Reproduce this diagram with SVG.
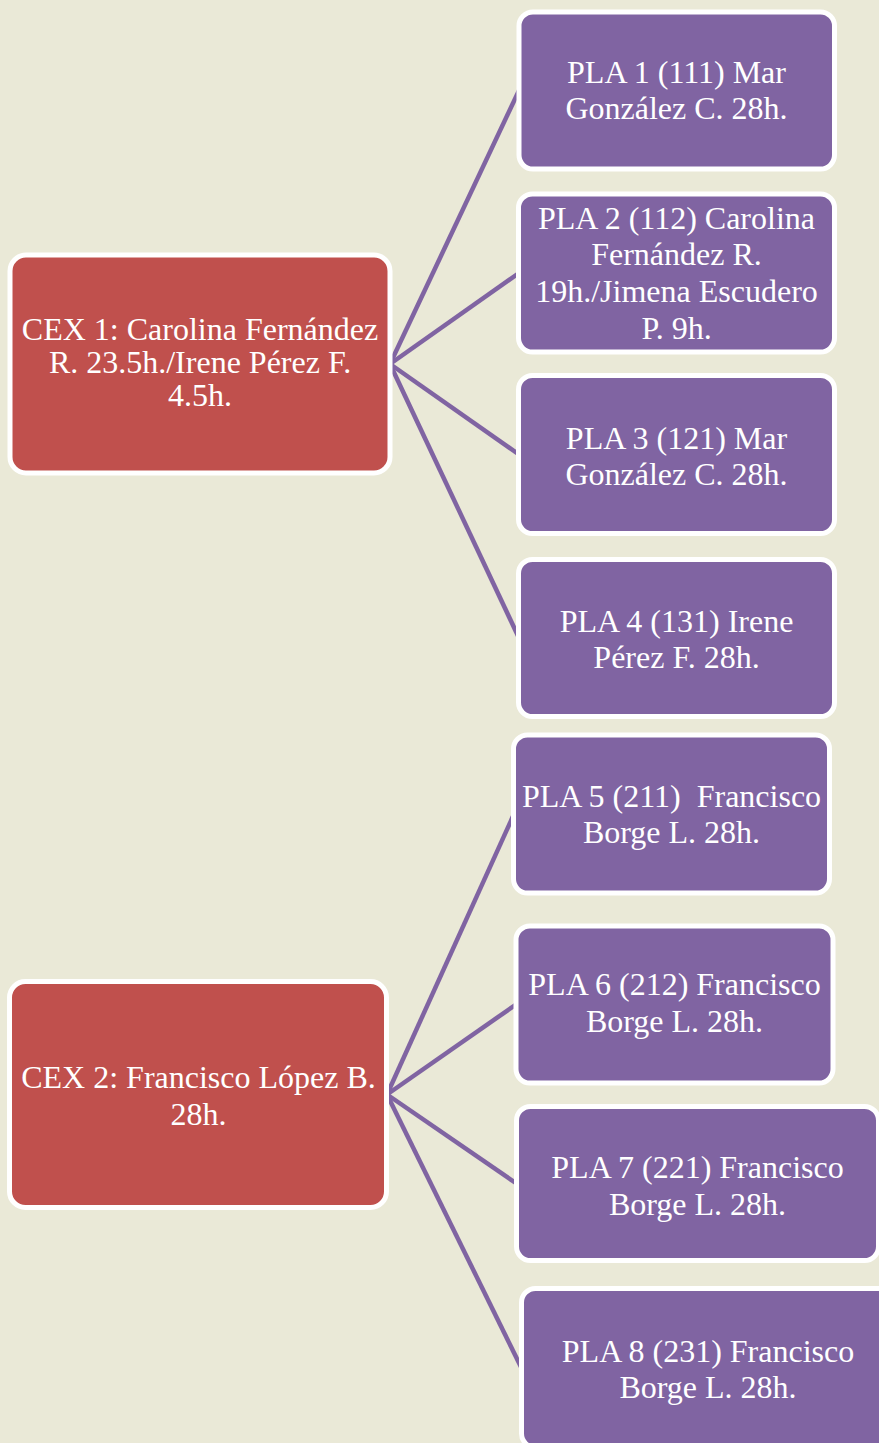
<svg xmlns="http://www.w3.org/2000/svg" width="879" height="1443" viewBox="0 0 879 1443">
<style>
.cex{fill:#C0504D;stroke:#FFFFFF;stroke-width:5}
.pla{fill:#8064A2;stroke:#FFFFFF;stroke-width:5}
.t{font-family:'Liberation Serif', Tinos, 'DejaVu Serif', serif;font-size:32px;fill:#FFFFFF;text-anchor:middle}
.c{stroke:#8064A2;stroke-width:4.5;fill:none}
</style>
<rect x="0" y="0" width="879" height="1443" fill="#EAE9D7"/>
<g id="connectors">
<line class="c" x1="390" y1="364" x2="519" y2="90.5"/>
<line class="c" x1="390" y1="364" x2="519" y2="273"/>
<line class="c" x1="390" y1="364" x2="519" y2="454.5"/>
<line class="c" x1="390" y1="364" x2="519" y2="638"/>
<line class="c" x1="387" y1="1094.5" x2="514" y2="814"/>
<line class="c" x1="387" y1="1094.5" x2="516" y2="1004.5"/>
<line class="c" x1="387" y1="1094.5" x2="516.5" y2="1183.5"/>
<line class="c" x1="387" y1="1094.5" x2="521.5" y2="1368"/>
</g>
<g id="cex1">
<rect class="cex" x="10" y="255" width="380" height="218" rx="16"/>
<text class="t" x="200" y="340">CEX 1: Carolina Fernández</text>
<text class="t" x="200" y="373">R. 23.5h./Irene Pérez F.</text>
<text class="t" x="200" y="406">4.5h.</text>
</g>
<g id="cex2">
<rect class="cex" x="9.5" y="981.5" width="377" height="226" rx="16"/>
<text class="t" x="198.5" y="1088">CEX 2: Francisco López B.</text>
<text class="t" x="198.5" y="1125">28h.</text>
</g>
<g id="pla1">
<rect class="pla" x="519" y="12" width="315.5" height="157" rx="14"/>
<text class="t" x="676.5" y="83">PLA 1 (111) Mar</text>
<text class="t" x="676.5" y="119">González C. 28h.</text>
</g>
<g id="pla2">
<rect class="pla" x="518.5" y="194" width="316" height="158" rx="14"/>
<text class="t" x="676.5" y="229">PLA 2 (112) Carolina</text>
<text class="t" x="676.5" y="265">Fernández R.</text>
<text class="t" x="676.5" y="302">19h./Jimena Escudero</text>
<text class="t" x="676.5" y="339">P. 9h.</text>
</g>
<g id="pla3">
<rect class="pla" x="518.5" y="375.5" width="316" height="158" rx="14"/>
<text class="t" x="676.5" y="449">PLA 3 (121) Mar</text>
<text class="t" x="676.5" y="485">González C. 28h.</text>
</g>
<g id="pla4">
<rect class="pla" x="518.5" y="559.5" width="316" height="157" rx="14"/>
<text class="t" x="676.5" y="632">PLA 4 (131) Irene</text>
<text class="t" x="676.5" y="668">Pérez F. 28h.</text>
</g>
<g id="pla5">
<rect class="pla" x="513.5" y="735" width="316" height="158" rx="14"/>
<text class="t" x="671.5" y="807" xml:space="preserve">PLA 5 (211)  Francisco</text>
<text class="t" x="671.5" y="843">Borge L. 28h.</text>
</g>
<g id="pla6">
<rect class="pla" x="516" y="926" width="317" height="157" rx="14"/>
<text class="t" x="674.5" y="995">PLA 6 (212) Francisco</text>
<text class="t" x="674.5" y="1032">Borge L. 28h.</text>
</g>
<g id="pla7">
<rect class="pla" x="516.5" y="1106.5" width="362" height="154" rx="14"/>
<text class="t" x="697.5" y="1178">PLA 7 (221) Francisco</text>
<text class="t" x="697.5" y="1215">Borge L. 28h.</text>
</g>
<g id="pla8">
<rect class="pla" x="521.5" y="1288.5" width="373" height="159" rx="14"/>
<text class="t" x="708" y="1362">PLA 8 (231) Francisco</text>
<text class="t" x="708" y="1398">Borge L. 28h.</text>
</g>
</svg>
